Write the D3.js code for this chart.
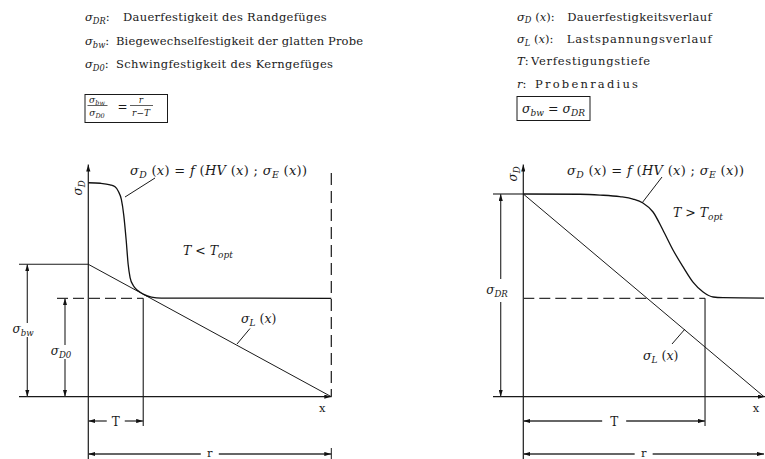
<!DOCTYPE html>
<html><head><meta charset="utf-8">
<script src="https://cdn.jsdelivr.net/npm/d3@7"></script>
<style>
body{margin:0;background:#fff}
svg{display:block}
</style>
</head><body>
<svg id="c" width="765" height="459"></svg>
<script>
// ---- values (depth x as fraction of radius r, stress in units of sigma_bw) ----
const sigmaBw = 1.0;        // bending fatigue strength, left case
const sigmaD0 = 0.743;      // core fatigue strength
const sigmaDR = 1.531;      // surface fatigue strength, right case
const depthT = [0.226, 0.755];   // hardening depth T, left / right
// fatigue strength profile sigma_D(x), left case (T < T_opt)
const curveLeftX = [0, 0.05, 0.09, 0.11, 0.124, 0.136, 0.146, 0.156, 0.164, 0.172, 0.185, 0.205, 0.226, 0.26, 0.30, 1];
const curveLeftY = [1.616, 1.612, 1.600, 1.585, 1.550, 1.490, 1.370, 1.180, 1.000, 0.900, 0.840, 0.800, 0.775, 0.752, 0.745, 0.743];
// fatigue strength profile sigma_D(x), right case (T > T_opt)
const curveRightX = [0, 0.236, 0.319, 0.401, 0.456, 0.497, 0.539, 0.580, 0.622, 0.664, 0.705, 0.747, 0.789, 0.830, 1];
const curveRightY = [1.531, 1.529, 1.523, 1.511, 1.493, 1.463, 1.395, 1.259, 1.108, 0.980, 0.866, 0.791, 0.753, 0.748, 0.745];
// notation lines: [symbol segments, description]
const notesLeft = [
  [[["σ","i"],["DR","s"],[":",""]], "Dauerfestigkeit des Randgefüges"],
  [[["σ","i"],["bw","s"],[":",""]], "Biegewechselfestigkeit der glatten Probe"],
  [[["σ","i"],["D0","s"],[":",""]], "Schwingfestigkeit des Kerngefüges"]
];
const notesRight = [
  [[["σ","i"],["D","s"],[" (",""],["x","i"],["):",""]], "Dauerfestigkeitsverlauf"],
  [[["σ","i"],["L","s"],[" (",""],["x","i"],["):",""]], "Lastspannungsverlauf"],
  [[["T","i"],[":",""]], "Verfestigungstiefe"],
  [[["r","i"],[":",""]], "Probenradius"]
];

const FONT = "DejaVu Serif";
const svg = d3.select("#c");
const defs = svg.append("defs");
defs.append("marker").attr("id","ah").attr("viewBox","0 0 10 6")
  .attr("refX",10).attr("refY",3).attr("markerWidth",7).attr("markerHeight",4.4)
  .attr("markerUnits","userSpaceOnUse").attr("orient","auto-start-reverse")
  .append("path").attr("d","M0,0L10,3L0,6Z").attr("fill","#111");

// common stress scale
const y = d3.scaleLinear().domain([0, 1]).range([396.7, 264.3]);
const xL = d3.scaleLinear().domain([0, 1]).range([88.3, 331.3]);
const xR = d3.scaleLinear().domain([0, 1]).range([523.3, 764]);

function line(g, x1, y1, x2, y2, o = {}) {
  const l = g.append("line").attr("x1",x1).attr("y1",y1).attr("x2",x2).attr("y2",y2)
    .attr("stroke", o.color || "#1a1a1a").attr("stroke-width", o.w || 1.1).attr("fill","none");
  if (o.dash) l.attr("stroke-dasharray", o.dash);
  if (o.start) l.attr("marker-start","url(#ah)");
  if (o.end) l.attr("marker-end","url(#ah)");
  return l;
}
function txt(g, x, yb, size) {
  return g.append("text").attr("x", x).attr("y", yb).attr("font-size", size)
    .style("font-family", FONT).attr("fill", "#1a1a1a");
}

// rich text: segments [text, style]; style "i" italic, "s" italic subscript
function rich(g, x, yb, segs, o = {}) {
  const size = o.size || 12;
  const t = txt(g, x, yb, size);
  if (o.anchor) t.attr("text-anchor", o.anchor);
  if (o.len) t.attr("textLength", o.len).attr("lengthAdjust", "spacing");
  let low = false;
  segs.forEach(([s, st]) => {
    const sub = st === "s";
    const ts = t.append("tspan").text(s);
    if (st === "i" || st === "s") ts.attr("font-style","italic");
    if (sub) { ts.attr("font-size", size * 0.72); if (!low) { ts.attr("dy", size * 0.25); low = true; } }
    else if (low) { ts.attr("dy", -size * 0.25); low = false; }
  });
  return t;
}
function plain(g, x, yb, s, len, size = 11.5) {
  return txt(g, x, yb, size).attr("textLength", len).attr("lengthAdjust","spacing").text(s);
}

// ---- notation blocks ----
const notes = svg.append("g");
const leftDesc = [[123, 203.7], [116, 247], [116, 217]];
notesLeft.forEach((n, i) => {
  rich(notes, 85, 21 + i * 23.7, n[0], { size: 11.5 });
  plain(notes, leftDesc[i][0], 21 + i * 23.7, n[1], leftDesc[i][1]);
});
const rightDesc = [[567.3, 144.4], [566.7, 145], [531, 119], [535, 103]];
notesRight.forEach((n, i) => {
  rich(notes, 517, 20.5 + i * 22.4, n[0], { size: 11.5 });
  plain(notes, rightDesc[i][0], 20.5 + i * 22.4, n[1], rightDesc[i][1]);
});
// relation boxes
notes.append("rect").attr("x",85).attr("y",94.5).attr("width",82.5).attr("height",28)
  .attr("fill","none").attr("stroke","#1a1a1a").attr("stroke-width",1);
rich(notes, 97, 102.5, [["σ","i"],["bw","s"]], { size: 9, anchor: "middle" });
line(notes, 87.5, 105.5, 107.5, 105.5, { w: 0.7 });
rich(notes, 97, 116, [["σ","i"],["D0","s"]], { size: 9, anchor: "middle" });
txt(notes, 122.5, 110.5, 12).attr("text-anchor","middle").text("=");
rich(notes, 141, 102.5, [["r","i"]], { size: 9, anchor: "middle" });
line(notes, 130, 105.5, 153, 105.5, { w: 0.7 });
rich(notes, 141, 116, [["r","i"],["−",""],["T","i"]], { size: 9, anchor: "middle" });

notes.append("rect").attr("x",517).attr("y",96.5).attr("width",73).attr("height",24)
  .attr("fill","none").attr("stroke","#1a1a1a").attr("stroke-width",1);
rich(notes, 553.5, 113, [["σ","i"],["bw","s"],[" = ",""],["σ","i"],["DR","s"]], { size: 12.5, anchor: "middle" });

// ---- one panel ----
function panel(x, T, top, curveX, curveY, o) {
  const g = svg.append("g");
  const y0 = y(0), x0 = x(0), x1 = x(1), xT = x(T);
  // axes
  line(g, x0, 459, x0, 164.5, { end: true, w: 1.2 });
  line(g, o.axisStart, y0, x1 + o.axisOver, y0, { end: true, w: 1.2 });
  txt(g, x1 - 9 + o.axisOver, y0 + 15, 11.5).attr("text-anchor","middle").text("x");
  // rotated axis label
  rich(g, 0, 0, [["σ","i"],["D","s"]], { size: 12, anchor: "middle" })
    .attr("transform", `translate(${x0 - 6},${o.axisLabelY}) rotate(-90)`);

  // load stress line sigma_L(x)
  g.append("path").attr("d", d3.line()([[x0, y(top)], [x1, y0]]))
    .attr("stroke","#1a1a1a").attr("stroke-width",1).attr("fill","none");
  // fatigue strength profile
  const pts = curveX.map((v, i) => [x(v), y(curveY[i])]);
  g.append("path").attr("d", d3.line().curve(d3.curveMonotoneX)(pts))
    .attr("stroke","#111").attr("stroke-width",1.3).attr("fill","none");

  // core level (dashed) and depth marker
  line(g, o.coreStart, y(sigmaD0), xT, y(sigmaD0), { dash: "11,5", w: 1.1, color: "#333" });
  line(g, xT, y(sigmaD0), xT, 426, { w: 1.1 });

  // T dimension
  const tm = (x0 + xT) / 2;
  line(g, x0, 421, tm - o.tGap, 421, { start: true, w: 1.3, color: "#333" });
  line(g, tm + o.tGap, 421, xT, 421, { end: true, w: 1.3, color: "#333" });
  txt(g, tm, 425.5, 12).attr("text-anchor","middle").text("T");
  // r dimension
  const rm = (x0 + x1) / 2;
  line(g, x0, 454, rm - 9, 454, { start: true, w: 1.3, color: "#333" });
  line(g, rm + 9, 454, x1, 454, { end: true, w: 1.3, color: "#333" });
  txt(g, rm, 457, 11.5).attr("text-anchor","middle").text("r");

  // labels with leaders
  const fl = [["σ","i"],["D","s"],[" (",""],["x","i"],[") = ",""],["f","i"],[" (",""],["HV","i"],[" (",""],["x","i"],[") ; ",""],["σ","i"],["E","s"],[" (",""],["x","i"],["))",""]];
  rich(g, o.fLabel[0], 175, fl, { size: 13, len: 177 });
  line(g, o.fLead[0], o.fLead[1], o.fLead[2], o.fLead[3], { w: 1 });
  rich(g, o.lLabel[0], o.lLabel[1], [["σ","i"],["L","s"],[" (",""],["x","i"],[")",""]], { size: 12.5 });
  line(g, o.lLead[0], o.lLead[1], o.lLead[2], o.lLead[3], { w: 1 });
  rich(g, o.cLabel[0], o.cLabel[1], [["T","i"],[o.rel,""],["T","i"],["opt","s"]], { size: 12.5 });
  return g;
}

// left case: T < T_opt
const gL = panel(xL, depthT[0], sigmaBw, curveLeftX, curveLeftY, {
  axisStart: 19, axisOver: 0, axisLabelY: 188, coreStart: 57, tGap: 9,
  fLabel: [130], fLead: [155, 178, 125, 197],
  lLabel: [241, 323], lLead: [237, 344, 250, 328.5],
  cLabel: [183, 255], rel: " < "
});
line(gL, xL(1), 173, xL(1), y(0), { dash: "12,6", w: 1.2 });
line(gL, xL(1), 448, xL(1), 459, { w: 1 });
line(gL, 19, y(sigmaBw), xL(0), y(sigmaBw), { w: 1.1 });
// sigma_bw and sigma_D0 dimensions
line(gL, 27.3, 323, 27.3, y(sigmaBw), { end: true, w: 1.2, color: "#333" });
line(gL, 27.3, 337, 27.3, y(0), { end: true, w: 1.2, color: "#333" });
rich(gL, 23, 333, [["σ","i"],["bw","s"]], { size: 12, anchor: "middle" });
line(gL, 65, 345, 65, y(sigmaD0), { end: true, w: 1.2, color: "#333" });
line(gL, 65, 359, 65, y(0), { end: true, w: 1.2, color: "#333" });
rich(gL, 61, 355, [["σ","i"],["D0","s"]], { size: 12, anchor: "middle" });

// right case: T > T_opt
const gR = panel(xR, depthT[1], sigmaDR, curveRightX, curveRightY, {
  axisStart: 493, axisOver: 1, axisLabelY: 174, coreStart: xR(0), tGap: 12,
  fLabel: [567], fLead: [662, 177, 642, 203],
  lLabel: [643, 360], lLead: [672, 344, 685, 329],
  cLabel: [673, 217], rel: " > "
});
line(gR, 493, y(sigmaDR), xR(0), y(sigmaDR), { w: 1.1 });
line(gR, 500.7, 279, 500.7, y(sigmaDR), { end: true, w: 1.2, color: "#333" });
line(gR, 500.7, 302, 500.7, y(0), { end: true, w: 1.2, color: "#333" });
rich(gR, 497, 294, [["σ","i"],["DR","s"]], { size: 12, anchor: "middle" });
</script>
</body></html>
